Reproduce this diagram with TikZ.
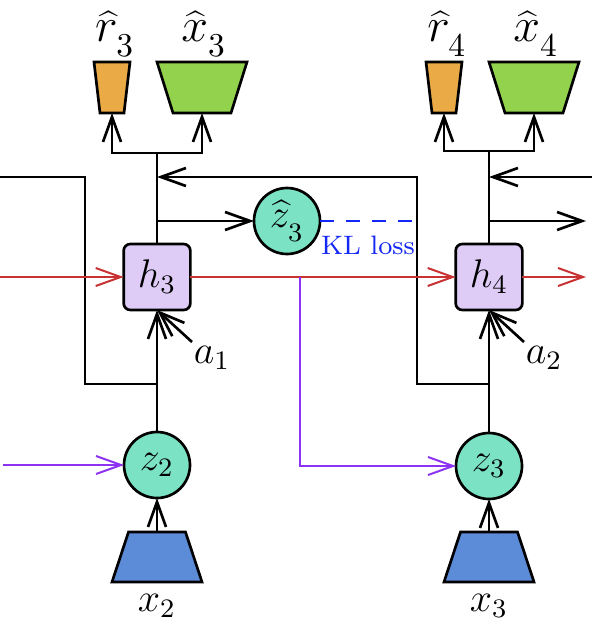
\documentclass[tikz,border=0pt]{standalone}
\usetikzlibrary{arrows.meta,calc}
\definecolor{orng}{RGB}{234,170,70}
\definecolor{grn}{RGB}{146,210,76}
\definecolor{tealc}{RGB}{124,226,196}
\definecolor{lav}{RGB}{222,204,246}
\definecolor{bluet}{RGB}{92,140,216}
\definecolor{redl}{RGB}{200,50,50}
\definecolor{purl}{RGB}{140,50,240}
\definecolor{klb}{RGB}{20,40,245}
\newcommand{\trapdraw}[4]{% name, top inset, bottom inset, colour
  \draw[fill=#4] ($(#1.north west)+(#2,0)$) -- ($(#1.north east)+(-#2,0)$) --
    ($(#1.south east)+(-#3,0)$) -- ($(#1.south west)+(#3,0)$) -- cycle;}
\newcommand{\lsub}[1]{_{\lower2.2pt\hbox{$\scriptstyle #1$}}}
\begin{document}
\begin{tikzpicture}[x=0.3pt,y=-0.3pt,
  font=\fontsize{12}{14}\selectfont,
  line width=0.8pt,
  arr/.style={-{Straight Barb[length=7.5pt,width=5.4pt]}},
  hbox/.style={draw,fill=lav,rounded corners=2pt,minimum width=20pt,minimum height=19.8pt,inner sep=0pt,outer sep=0pt},
  zc/.style={circle,draw,fill=tealc,minimum size=19.8pt,inner sep=0pt,outer sep=0pt},
  tbox/.style={rectangle,inner sep=0pt,outer sep=0pt},
  rdec/.style={tbox,minimum width=10.8pt,minimum height=15.3pt},
  xdec/.style={tbox,minimum width=27pt,minimum height=15.3pt},
  enc/.style={tbox,minimum width=27pt,minimum height=15pt},
  lbl/.style={font=\fontsize{14}{16}\selectfont},
  redarr/.style={arr,draw=redl,line width=0.6pt},
  purarr/.style={arr,draw=purl,line width=0.6pt}]
\useasboundingbox (0,0) rectangle (592,634);

% nodes
\node[hbox] (h3) at (157,277) {$h_3$};
\node[hbox] (h4) at (489,277) {$h_4$};
\node[zc] (z2) at (157,465) {$z_2$};
\node[zc] (z3) at (489,466) {$z_3$};
\node[zc] (zh3) at (287,221) {$\widehat{z}\lsub{3}$};
\node[rdec] (r3) at (112,87.5) {};
\node[xdec] (xo3) at (202,87.5) {};
\node[rdec] (r4) at (444,87.5) {};
\node[xdec] (xo4) at (534,87.5) {};
\node[enc] (x2) at (157,557) {};
\node[enc] (x3) at (489,557) {};
\trapdraw{r3}{0}{6}{orng}
\trapdraw{xo3}{0}{16}{grn}
\trapdraw{r4}{0}{6}{orng}
\trapdraw{xo4}{0}{16}{grn}
\trapdraw{x2}{16.5}{0}{bluet}
\trapdraw{x3}{16.5}{0}{bluet}

\node[lbl] (lr3) at (115,34) {$\widehat{r}\lsub{3}$};
\node[lbl] (lx3) at (204,34) {$\widehat{x}\lsub{3}$};
\node[lbl] (lr4) at (447,34) {$\widehat{r}\lsub{4}$};
\node[lbl] (lx4) at (536,34) {$\widehat{x}\lsub{4}$};
\node (lx2) at (157,606) {$x_2$};
\node (lx3b) at (489,606) {$x_3$};
\node (la1) at (212,358) {$a_1$};
\node (la2) at (544,358) {$a_2$};
\node[text=klb,font=\fontsize{8}{9}\selectfont] (kl) at (368,245) {KL loss};

% coordinates
\coordinate (s3) at (157,153);
\coordinate (s4) at (489,151);
\coordinate (a1) at (192,342);
\coordinate (a2) at (524,342);
\coordinate (inL) at (0,177);
\coordinate (inR) at (592,177);
\coordinate (j3) at (157,384);
\coordinate (j4) at (489,384);
\coordinate (t3) at (157,177);
\coordinate (t4) at (489,177);
\coordinate (o3) at (157,221);
\coordinate (o4) at (489,221);
\coordinate (outR) at (586,221);
\coordinate (klend) at (417,221);
\coordinate (redin) at (0,277);
\coordinate (redout) at (586,277);
\coordinate (redsplit) at (300,277);
\coordinate (purin) at (3,465);

% decoder branches
\draw (h3.north) -- (s3);
\draw[arr] (s3) -| (r3.south);
\draw[arr] (s3) -| (xo3.south);
\draw (h4.north) -- (s4);
\draw[arr] (s4) -| (r4.south);
\draw[arr] (s4) -| (xo4.south);

% inputs to h
\draw[arr] (z2.north) -- (h3.south);
\draw[arr] (z3.north) -- (h4.south);
\draw[arr] (a1) -- (h3.south);
\draw[arr] (a2) -- (h4.south);
\draw[arr] (x2.north) -- (z2.south);
\draw[arr] (x3.north) -- (z3.south);

% loops
\draw (inL) -- (85,177) -- (85,384) -- (j3);
\draw[arr] (j4) -- (417,384) -- (417,177) -- (t3);
\draw[arr] (inR) -- (t4);

% prior branches
\draw[arr] (o3) -- (zh3.west);
\draw[arr] (o4) -- (outR);
\draw[klb,dash pattern=on 4.2pt off 3.6pt] (zh3.east) -- (klend);

% red recurrent
\draw[redarr] (redin) -- (h3.west);
\draw[redarr] (h3.east) -- (h4.west);
\draw[redarr] (h4.east) -- (redout);

% purple
\draw[purarr] (purin) -- (z2.west);
\draw[purarr] (redsplit) |- (z3.west);
\end{tikzpicture}
\end{document}
